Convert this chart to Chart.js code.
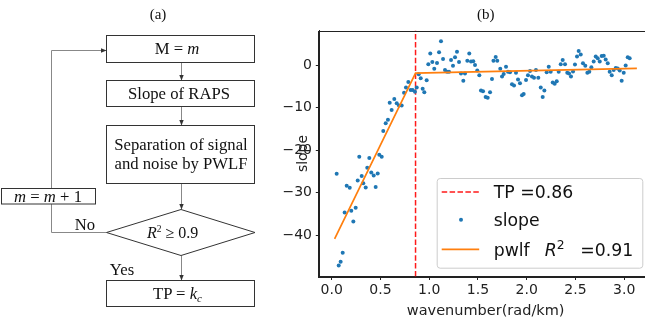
<!DOCTYPE html>
<html><head><meta charset="utf-8">
<script src="https://cdn.jsdelivr.net/npm/chart.js@4.4.1/dist/chart.umd.min.js"></script>
<style>
html,body{margin:0;padding:0;background:#fff;width:645px;height:320px;overflow:hidden;}
#wrap{position:relative;width:645px;height:320px;overflow:hidden;}
#c{position:absolute;left:0;top:0;}
#flow{position:absolute;left:0;top:0;}
</style></head><body>
<div id="wrap">
<canvas id="c" width="660" height="320" style="width:660px;height:320px"></canvas>
<svg id="flow" width="645" height="320" viewBox="0 0 645 320" font-family="'Liberation Serif','Times New Roman',serif" font-size="16.7" fill="#111">
  <defs>
    <marker id="ah" markerWidth="6" markerHeight="6" refX="6" refY="3" orient="auto" markerUnits="userSpaceOnUse">
      <path d="M0,0.6 L6,3 L0,5.4 z" fill="#333"/>
    </marker>
  </defs>
  <text x="158" y="19" font-size="15" text-anchor="middle">(a)</text>
  <text x="485.7" y="19" font-size="15" text-anchor="middle">(b)</text>
  <g stroke="#888" stroke-width="1" fill="none">
    <line x1="181.5" y1="62.5" x2="181.5" y2="80.5" marker-end="url(#ah)"/>
    <line x1="181.5" y1="106.5" x2="181.5" y2="125.5" marker-end="url(#ah)"/>
    <line x1="181.5" y1="183.5" x2="181.5" y2="209.5" marker-end="url(#ah)"/>
    <line x1="181.5" y1="255.5" x2="181.5" y2="280.5" marker-end="url(#ah)"/>
    <polyline points="106.5,232.5 51.5,232.5 51.5,50.5 106.5,50.5" marker-end="url(#ah)"/>
  </g>
  <g stroke="#333" stroke-width="1" fill="#fff">
    <rect x="106.5" y="35.5" width="148" height="27"/>
    <rect x="106.5" y="80.5" width="148" height="26"/>
    <rect x="106.5" y="125.5" width="148" height="58"/>
    <polygon points="106.5,232.5 181,209.5 255,232.5 181,255.5"/>
    <rect x="106.5" y="280.5" width="148" height="26"/>
    <rect x="1.5" y="188.5" width="94" height="15.5"/>
  </g>
  <text x="177" y="54.2" text-anchor="middle">M = <tspan font-style="italic">m</tspan></text>
  <text x="179" y="98.9" text-anchor="middle">Slope of RAPS</text>
  <text x="181" y="150.2" text-anchor="middle">Separation of signal</text>
  <text x="181" y="169.2" text-anchor="middle">and noise by PWLF</text>
  <text x="147" y="238" font-size="16"><tspan font-style="italic">R</tspan><tspan font-size="9.5" dy="-6.5">2</tspan><tspan dy="6.5"> ≥ 0.9</tspan></text>
  <text x="177.5" y="299.2" text-anchor="middle">TP = <tspan font-style="italic">k</tspan><tspan font-style="italic" font-size="11" dy="3">c</tspan></text>
  <text x="48" y="201.7" text-anchor="middle"><tspan font-style="italic">m</tspan> = <tspan font-style="italic">m</tspan> + 1</text>
  <text x="85" y="230" text-anchor="middle">No</text>
  <text x="122" y="275" text-anchor="middle">Yes</text>
</svg>
</div>
<script>
const TP = 0.86;
const R2 = 0.91;
const wavenumber = [
  0.051,0.072,0.092,0.113,0.133,0.154,0.185,0.201,0.222,0.246,0.267,0.283,0.308,0.324,0.349,0.365,
  0.386,0.406,0.431,0.451,0.472,0.488,0.513,0.529,0.554,0.577,0.595,0.615,0.642,0.667,0.690,0.718,
  0.742,0.762,0.786,0.810,0.831,0.854,0.872,0.892,0.913,0.933,0.950,0.974,
  0.991,1.011,1.032,1.052,1.080,1.101,1.121,1.142,1.162,1.183,1.203,1.224,1.244,1.265,1.285,1.306,
  1.326,1.350,1.367,1.391,1.411,1.429,1.452,1.470,1.493,1.514,1.531,1.552,1.579,1.600,1.624,1.644,
  1.659,1.682,1.698,1.729,1.747,1.764,1.788,1.808,1.829,1.849,1.870,1.890,1.911,1.931,1.952,1.969,
  1.993,2.013,2.034,2.054,2.075,2.095,2.119,2.144,2.164,2.181,2.205,2.226,2.246,2.267,2.287,2.308,
  2.328,2.349,2.369,2.393,2.416,2.434,2.454,2.475,2.495,2.516,2.533,2.554,2.577,2.601,2.622,2.642,
  2.663,2.687,2.708,2.728,2.749,2.769,2.790,2.810,2.831,2.851,2.872,2.892,2.913,2.933,2.954,2.974,
  2.995,3.015,3.036,3.056
];
const slope = [
  -25.6,-47.2,-46.3,-44.2,-34.7,-28.4,-28.9,-34.3,-36.8,-33.6,-27.2,-21.6,-26.1,-27.8,-28.8,-24.2,
  -21.9,-25.3,-26.0,-28.7,-25.5,-21.1,-21.6,-15.5,-13.7,-12.9,-8.9,-10.6,-8.0,-9.0,-9.5,-9.5,
  -6.5,-5.3,-4.0,-5.9,-5.9,-6.3,-5.3,-2.2,-3.1,-5.6,-6.4,-3.6,
  0.2,2.7,0.7,-0.9,0.5,3.0,5.6,1.4,-1.2,-1.6,-1.6,1.2,-0.2,1.8,3.1,0.7,
  -2.0,-3.7,-2.0,1.0,2.7,0.8,0.9,0.0,-1.3,-2.4,-6.0,-6.2,-7.5,-7.7,-6.4,-3.3,
  1.0,1.9,1.0,-0.9,-2.7,-2.1,-0.4,-1.6,-1.7,-4.5,-4.8,-1.8,-3.4,-4.3,-7.1,-6.8,
  -3.5,-2.4,-1.4,-2.7,-3.0,-1.2,-3.0,-5.3,-7.5,-6.0,-1.7,-0.4,-1.6,-4.1,-4.4,-3.8,
  -1.6,0.2,1.2,0.2,-1.8,-2.0,-2.7,-1.5,0.1,2.0,3.3,2.5,0.4,-0.2,-1.8,-1.6,
  -0.5,0.8,2.0,1.6,0.8,2.1,2.2,1.3,0.4,-1.6,-2.4,-1.2,-0.7,-0.8,-1.3,-3.7,
  -1.8,-0.1,1.8,1.6
];
const pwlfX = [0.03, 0.86, 3.13];
const pwlfY = [-40.9, -1.9, -0.8];
const xTicks = [0.0, 0.5, 1.0, 1.5, 2.0, 2.5, 3.0];
const yTicks = [-40, -30, -20, -10, 0];
const xLimits = [-0.127, 3.285];
const yLimits = [-49.76, 8.12];

const FONT = "'DejaVu Sans', sans-serif";
const AX = '#222';

const framePlugin = {
  id: 'frameLegend',
  afterDatasetsDraw(chart) {
    const {ctx, chartArea: ca} = chart;
    ctx.save();
    ctx.strokeStyle = AX; ctx.lineWidth = 1;
    ctx.strokeRect(Math.round(ca.left) - 0.5, Math.round(ca.top) + 0.5, ca.right - ca.left, ca.bottom - ca.top);
    ctx.restore();
  },
  afterDraw(chart) {
    const {ctx, chartArea: ca} = chart;
    const w = 205.6, h = 89.7;
    const bx = ca.right - 9.7 - w, by = ca.bottom - 8.8 - h;
    ctx.save();
    ctx.beginPath();
    if (ctx.roundRect) ctx.roundRect(bx + 0.5, by + 0.5, w, h, 3); else ctx.rect(bx + 0.5, by + 0.5, w, h);
    ctx.fillStyle = 'rgba(255,255,255,0.8)';
    ctx.fill();
    ctx.strokeStyle = '#cccccc'; ctx.lineWidth = 1;
    ctx.stroke();
    const rows = [14, 41.7, 71.3];
    const ds = chart.data.datasets;
    const fs = 17.3;
    ds.forEach((d, i) => {
      const y = by + rows[i];
      if (d.showLine) {
        ctx.beginPath();
        ctx.setLineDash(d.borderDash || []);
        ctx.strokeStyle = d.borderColor; ctx.lineWidth = d.borderWidth;
        ctx.moveTo(bx + 5, y); ctx.lineTo(bx + 42.5, y);
        ctx.stroke();
        ctx.setLineDash([]);
      } else {
        ctx.beginPath();
        ctx.fillStyle = d.backgroundColor;
        ctx.arc(bx + 24.3, y, d.pointRadius, 0, Math.PI * 2);
        ctx.fill();
      }
      ctx.fillStyle = '#111';
      ctx.textBaseline = 'alphabetic';
      ctx.font = fs + 'px ' + FONT;
      const tx = bx + 57;
      const base = y + 6.3;
      ctx.fillText(d.label, tx, base);
      if (d.r2 !== undefined) {
        ctx.font = 'oblique ' + fs + 'px ' + FONT;
        ctx.fillText('R', bx + 108, base);
        ctx.font = '12.3px ' + FONT;
        ctx.fillText('2', bx + 120, base - 7);
        ctx.font = fs + 'px ' + FONT;
        ctx.fillText('=' + d.r2.toFixed(2), bx + 143.5, base);
      }
    });
    ctx.restore();
  }
};

const gridOpts = {drawOnChartArea: false, drawTicks: true, tickLength: 3.5, color: AX, lineWidth: 1};
const PADL = 262;

new Chart(document.getElementById('c'), {
  type: 'scatter',
  data: {
    datasets: [
      {
        label: 'TP =' + TP.toFixed(2),
        data: [{x: TP, y: yLimits[0]}, {x: TP, y: yLimits[1]}],
        showLine: true, borderColor: '#ff1a1a', borderWidth: 1.5, borderDash: [5.5, 2.4],
        pointRadius: 0, order: 2
      },
      {
        label: 'slope',
        data: wavenumber.map((x, i) => ({x: x, y: slope[i]})),
        showLine: false, backgroundColor: '#1f77b4', borderWidth: 0, pointRadius: 2, pointHoverRadius: 2, order: 1
      },
      {
        label: 'pwlf',
        r2: R2,
        data: pwlfX.map((x, i) => ({x: x, y: pwlfY[i]})),
        showLine: true, borderColor: '#ff7f0e', borderWidth: 1.7, pointRadius: 0, order: 0
      }
    ]
  },
  options: {
    responsive: false,
    animation: false,
    devicePixelRatio: 1,
    layout: {padding: {left: PADL, right: 8, top: 30.5, bottom: 0}},
    plugins: {legend: {display: false}, tooltip: {enabled: false}, title: {display: false}},
    scales: {
      x: {
        type: 'linear', min: xLimits[0], max: xLimits[1],
        afterBuildTicks: s => { s.ticks = xTicks.map(v => ({value: v})); },
        afterFit: s => { s.height = 43.5; },
        grid: gridOpts,
        border: {display: true, color: AX, width: 1},
        ticks: {font: {family: FONT, size: 14}, color: AX, padding: 2, maxRotation: 0, autoSkip: false,
                callback: v => Number(v).toFixed(1)},
        title: {display: true, text: 'wavenumber(rad/km)', font: {family: FONT, size: 14.5}, color: AX,
                padding: {top: 0, bottom: 0.5}}
      },
      y: {
        type: 'linear', min: yLimits[0], max: yLimits[1],
        afterBuildTicks: s => { s.ticks = yTicks.map(v => ({value: v})); },
        afterFit: s => { s.width = 319.3 - PADL; },
        grid: gridOpts,
        border: {display: true, color: AX, width: 1},
        ticks: {font: {family: FONT, size: 14}, color: AX, padding: 3.8, autoSkip: false,
                callback: v => (v < 0 ? '\u2212' + Math.abs(v) : String(v))},
        title: {display: true, text: 'slope', font: {family: FONT, size: 14}, color: AX,
                padding: {top: 303 - 8.4 - PADL, bottom: 0}}
      }
    }
  },
  plugins: [framePlugin]
});
</script>
</body></html>
